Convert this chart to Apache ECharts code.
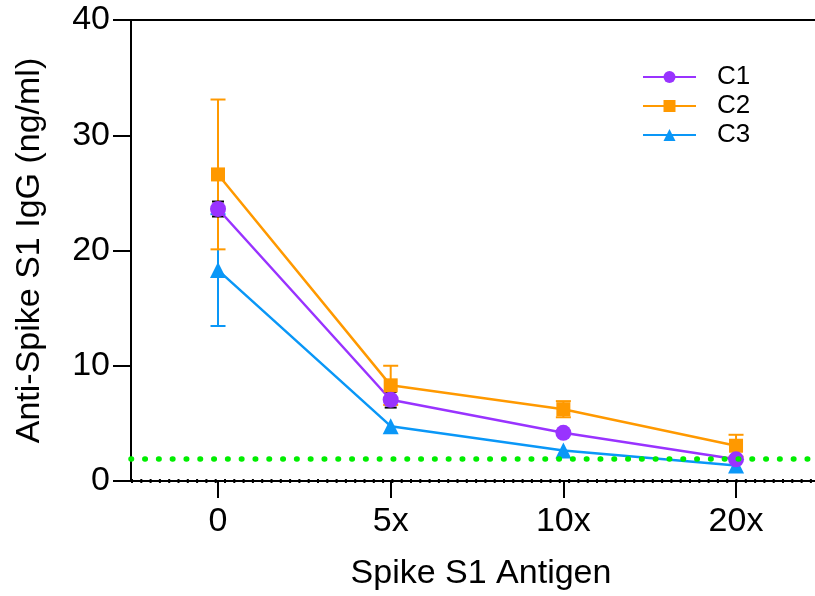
<!DOCTYPE html>
<html>
<head>
<meta charset="utf-8">
<script src="https://cdn.jsdelivr.net/npm/echarts@6/dist/echarts.min.js"></script>
<style>
  html, body { margin: 0; padding: 0; background: #fff; overflow: hidden; }
  /* the plot frame runs a little past the right edge of the window */
  #chart { width: 831px; height: 596px; }
</style>
</head>
<body>
<div id="chart"></div>
<script>
// Dilution categories on the x axis
const categories = ['0', '5x', '10x', '20x'];

// Group means (ng/ml) and error half-widths
const c1Mean = [23.6, 7.05, 4.18, 1.88];
const c1Err  = [0.65, 0.68, 0, 0];
const c2Mean = [26.6, 8.3, 6.23, 3.06];
const c2Err  = [6.5, 1.7, 0.7, 0.95];
const c3Mean = [18.3, 4.76, 2.65, 1.35];
const c3Err  = [4.85, 0, 0, 0];

// Detection threshold line
const threshold = 1.95;

// y-axis ticks
const yTicks = [0, 10, 20, 30, 40];

const FONT = '"Liberation Sans", Arial, sans-serif';
const colors = { c1: '#9933FF', c2: '#FF9900', c3: '#0A97F7' };

// x range: categories sit at 0..3, with padding on both sides
const xMin = -0.504;
const xMax = 3.55;

function points(means) {
  return means.map((v, i) => [i, v]);
}
function bars(means, errs) {
  return means.map((v, i) => [i, v - errs[i], v + errs[i]]).filter((d, i) => errs[i] > 0);
}
function errorSeries(name, data, color, capW) {
  return {
    type: 'custom',
    name: name + ' err',
    z: 1,
    silent: true,
    encode: { x: 0, y: [1, 2] },
    data: data,
    renderItem: function (params, api) {
      const x = api.value(0);
      const top = api.coord([x, api.value(2)]);
      const bot = api.coord([x, api.value(1)]);
      const hw = capW / 2;
      const st = { stroke: color, lineWidth: 2, fill: null };
      return {
        type: 'group',
        children: [
          { type: 'line', shape: { x1: top[0], y1: top[1], x2: bot[0], y2: bot[1] }, style: st },
          { type: 'line', shape: { x1: top[0] - hw, y1: top[1], x2: top[0] + hw, y2: top[1] }, style: st },
          { type: 'line', shape: { x1: bot[0] - hw, y1: bot[1], x2: bot[0] + hw, y2: bot[1] }, style: st }
        ]
      };
    }
  };
}
function lineSeries(name, means, color, symbol, size) {
  return {
    type: 'line',
    name: name,
    z: 3,
    data: points(means),
    symbol: symbol,
    symbolSize: size,
    color: color,
    lineStyle: { color: color, width: 2.5 },
    itemStyle: { color: color, borderWidth: 0 },
    emphasis: { disabled: true },
    animation: false
  };
}

const chart = echarts.init(document.getElementById('chart'), null, { renderer: 'canvas' });
const catTicks = categories.map((c, i) => i);

chart.setOption({
  animation: false,
  textStyle: { fontFamily: FONT },
  grid: { left: 131, right: 0, top: 20, bottom: 114 },
  legend: {
    orient: 'vertical',
    left: 637,
    top: 59,
    itemWidth: 53,
    itemHeight: 15,
    itemGap: 3,
    data: ['C1', 'C2', 'C3'],
    textStyle: { fontFamily: FONT, fontSize: 26, lineHeight: 26, color: '#000', padding: [0, 0, 0, 16] }
  },
  xAxis: [{
    type: 'value',
    min: xMin,
    max: xMax,
    name: 'Spike S1 Antigen',
    nameLocation: 'middle',
    nameGap: 76,
    nameTextStyle: { fontFamily: FONT, fontSize: 34, color: '#000' },
    axisLine: { show: true, onZero: false, lineStyle: { color: '#000', width: 2 } },
    axisTick: { show: true, length: 17, customValues: catTicks, lineStyle: { color: '#000', width: 2 } },
    axisLabel: {
      customValues: catTicks, margin: 24, fontSize: 34, color: '#000', fontFamily: FONT,
      formatter: function (v) { return categories[Math.round(v)]; }
    },
    splitLine: { show: false }
  }, {
    type: 'value',
    position: 'top',
    min: xMin,
    max: xMax,
    axisLine: { show: true, onZero: false, lineStyle: { color: '#000', width: 2 } },
    axisTick: { show: false },
    axisLabel: { show: false },
    splitLine: { show: false }
  }],
  yAxis: {
    type: 'value',
    min: 0,
    max: 40,
    interval: 10,
    name: 'Anti-Spike S1 IgG (ng/ml)',
    nameLocation: 'middle',
    nameGap: 84,
    nameTextStyle: { fontFamily: FONT, fontSize: 34, color: '#000' },
    axisLine: { show: true, onZero: false, lineStyle: { color: '#000', width: 2 } },
    axisTick: { show: true, length: 18, lineStyle: { color: '#000', width: 2 } },
    axisLabel: {
      margin: 21, fontSize: 34, color: '#000', fontFamily: FONT,
      formatter: function (v) { return yTicks.indexOf(v) >= 0 ? String(v) : ''; }
    },
    splitLine: { show: false }
  },
  series: [
    // reference lines: green threshold and dotted baseline at zero
    {
      type: 'line',
      name: 'threshold',
      data: [],
      z: 2,
      markLine: {
        silent: true,
        symbol: 'none',
        label: { show: false },
        animation: false,
        data: [
          { yAxis: threshold, lineStyle: { color: '#00EE00', width: 5.5, type: [0.5, 13.3], cap: 'round' } },
          { yAxis: 0, lineStyle: { color: '#000', width: 4, type: [2, 7.3] } }
        ]
      }
    },
    errorSeries('C3', bars(c3Mean, c3Err), colors.c3, 15),
    errorSeries('C2', bars(c2Mean, c2Err), colors.c2, 15),
    errorSeries('C1', bars(c1Mean, c1Err), '#000', 12),
    lineSeries('C3', c3Mean, colors.c3, 'triangle', 16),
    lineSeries('C2', c2Mean, colors.c2, 'rect', 14),
    lineSeries('C1', c1Mean, colors.c1, 'circle', 16)
  ]
});
</script>
</body>
</html>
